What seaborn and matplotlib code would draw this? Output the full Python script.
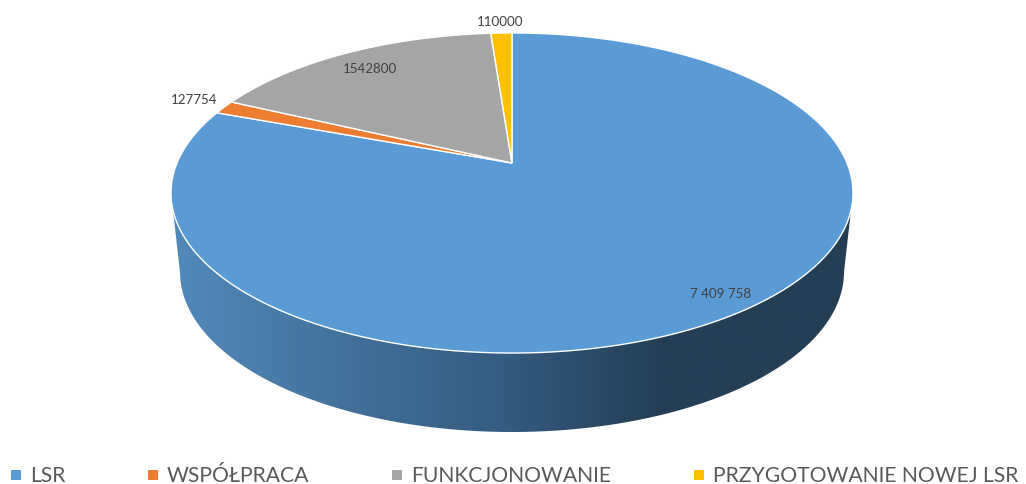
import numpy as np
import matplotlib
matplotlib.use("Agg")
import matplotlib.pyplot as plt
from matplotlib.colors import LinearSegmentedColormap
from matplotlib.lines import Line2D
from matplotlib.patches import PathPatch
from matplotlib.path import Path
from matplotlib.transforms import Affine2D, Transform
import seaborn as sns

# Values of the chart
categories = ["LSR", "WSPÓŁPRACA", "FUNKCJONOWANIE", "PRZYGOTOWANIE NOWEJ LSR"]
values = [7409758, 127754, 1542800, 110000]
value_labels = ["7 409 758", "127754", "1542800", "110000"]
label_pixels = [(721, 294), (194, 100), (370, 69), (500, 22)]
colors = ["#5B9BD5", "#ED7D31", "#A5A5A5", "#FFC000"]

sns.set_theme(style="white")
plt.rcParams["font.family"] = ["Lato", "DejaVu Sans"]

W, H = 1026, 484
APEX_X, APEX_Y = 512, 163
RIM_Y, RX, RY = 193, 341, 160
DEPTH, BOTTOM_RX = 79, 332


class TiltTransform(Transform):
    """Perspective view of the unit disc, in picture pixels."""
    input_dims = 2
    output_dims = 2
    k = 0.1875

    def transform_non_affine(self, values):
        xy = np.asarray(values, dtype=float)
        w = 1 + self.k * xy[:, 1]
        return np.column_stack([
            APEX_X + RX * np.sqrt(1 - self.k ** 2) * xy[:, 0] / w,
            APEX_Y - 154.4 * xy[:, 1] / w,
        ])

    def transform_path_non_affine(self, path):
        # flatten the arcs first so the outline stays a true ellipse
        scale = 2000
        polys = path.to_polygons(Affine2D().scale(scale), closed_only=True)
        return Path(self.transform_non_affine(polys[0] / scale), closed=True)


fig = plt.figure(figsize=(W / 100, H / 100), dpi=100)
ax = fig.add_axes([0, 0, 1, 1])

wedges, _ = ax.pie(
    values,
    colors=colors,
    startangle=90,
    counterclock=False,
    wedgeprops={"edgecolor": "white", "linewidth": 1.0, "zorder": 3},
)
tilt = TiltTransform()
for wedge in wedges:
    wedge.set_transform(tilt + ax.transData)

ax.set_aspect("auto")
ax.set_xlim(0, W)
ax.set_ylim(H, 0)
ax.set_axis_off()

# Side wall of the pie, shaded from left to right
theta = np.linspace(0, np.pi, 200)
wall = np.column_stack([
    np.concatenate([APEX_X + RX * np.cos(theta), APEX_X + BOTTOM_RX * np.cos(theta[::-1])]),
    np.concatenate([RIM_Y + RY * np.sin(theta), RIM_Y + DEPTH + RY * np.sin(theta[::-1])]),
])
wall_cmap = LinearSegmentedColormap.from_list(
    "wall",
    [(0, "#5289BB"), (0.5, "#345A7E"), (0.72, "#243E55"), (1, "#243E55")],
)
img = ax.imshow(
    np.linspace(0, 1, 512)[None, :],
    cmap=wall_cmap,
    aspect="auto",
    extent=[APEX_X - RX, APEX_X + RX, H, RIM_Y],
    zorder=1,
)
img.set_clip_path(PathPatch(Path(wall), transform=ax.transData))
ax.set_xlim(0, W)
ax.set_ylim(H, 0)

for text, (px, py) in zip(value_labels, label_pixels):
    ax.text(px, py, text, ha="center", va="center", fontsize=9.6, color="#404040", zorder=5)

handles = [
    Line2D([], [], linestyle="none", marker="s", markersize=7, markeredgewidth=0, color=c, label=n)
    for c, n in zip(colors, categories)
]
ax.legend(
    handles=handles,
    ncol=4,
    loc="center left",
    bbox_to_anchor=(0.008, 1 - 476 / H),
    frameon=False,
    fontsize=15.2,
    labelcolor="#595959",
    handlelength=0.7,
    handletextpad=0.32,
    columnspacing=3.8,
    borderpad=0,
    borderaxespad=0,
)

fig.savefig("out.png", dpi=100)
